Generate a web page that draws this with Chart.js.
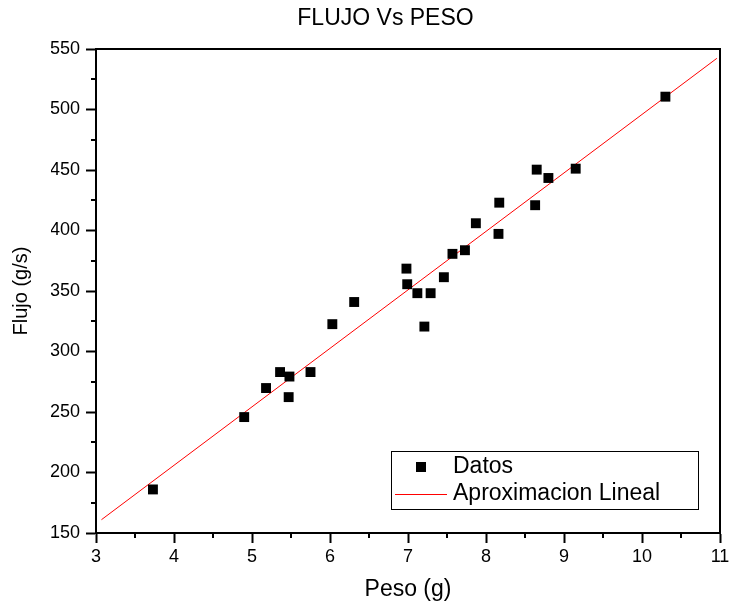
<!DOCTYPE html>
<html>
<head>
<meta charset="utf-8">
<script src="https://cdn.jsdelivr.net/npm/chart.js@4.4.0/dist/chart.umd.min.js"></script>
<style>
html,body{margin:0;padding:0;background:#ffffff;}
#wrap{width:731px;height:607px;position:relative;}
</style>
</head>
<body>
<div id="wrap"><canvas id="c" width="731" height="607"></canvas></div>
<script>
// ---- data ----
const pesoValues  = [3.73, 4.90, 5.18, 5.36, 5.48, 5.47, 5.75, 6.03, 6.31, 6.98, 6.99, 7.12, 7.21, 7.29, 7.46, 7.57, 7.73, 7.87, 8.17, 8.16, 8.63, 8.65, 8.80, 9.15, 10.30];
const flujoValues = [186.0, 245.8, 269.8, 283.0, 279.3, 262.3, 283.0, 322.6, 340.9, 368.5, 355.6, 348.2, 320.6, 348.2, 361.4, 380.7, 383.7, 406.0, 423.0, 397.2, 420.9, 450.3, 443.4, 451.1, 510.6];
const fitPeso  = [3.07, 10.96];
const fitFlujo = [161.0, 542.3];
const xMinorTicks = [3.5, 4.5, 5.5, 6.5, 7.5, 8.5, 9.5, 10.5];
const yMinorTicks = [175, 225, 275, 325, 375, 425, 475, 525];
const seriesNames = ['Datos', 'Aproximacion Lineal'];

const FONT = '"Liberation Sans", Arial, Helvetica, sans-serif';

const datosPoints = pesoValues.map((x, i) => ({x: x, y: flujoValues[i]}));
const fitPoints = fitPeso.map((x, i) => ({x: x, y: fitFlujo[i]}));

const framePlugin = {
  id: 'frame',
  afterDraw(chart) {
    const {ctx, chartArea: a, scales} = chart;
    ctx.save();
    ctx.strokeStyle = '#000';
    ctx.lineWidth = 2;
    ctx.beginPath();
    ctx.moveTo(a.left - 1, a.top);
    ctx.lineTo(a.right, a.top);
    ctx.lineTo(a.right, a.bottom + 1);
    ctx.stroke();
    // minor ticks
    ctx.lineWidth = 2;
    ctx.beginPath();
    yMinorTicks.forEach(v => {
      const py = Math.round(scales.y.getPixelForValue(v));
      ctx.moveTo(a.left - 5, py);
      ctx.lineTo(a.left, py);
    });
    xMinorTicks.forEach(v => {
      const px = Math.round(scales.x.getPixelForValue(v));
      ctx.moveTo(px, a.bottom);
      ctx.lineTo(px, a.bottom + 5);
    });
    ctx.stroke();
    // legend box
    const bx = a.right - 329, by = a.bottom - 82, bw = 307, bh = 58;
    ctx.lineWidth = 1;
    ctx.strokeRect(bx + 0.5, by + 0.5, bw, bh);
    ctx.fillStyle = '#000';
    ctx.fillRect(bx + 25, by + 11, 10, 10);
    ctx.strokeStyle = '#ff0000';
    ctx.beginPath();
    ctx.moveTo(bx + 4, by + 43.5);
    ctx.lineTo(bx + 56, by + 43.5);
    ctx.stroke();
    ctx.fillStyle = '#000';
    ctx.font = '23px ' + FONT;
    ctx.textBaseline = 'middle';
    ctx.textAlign = 'left';
    ctx.fillText(seriesNames[0], bx + 62, by + 16);
    ctx.fillText(seriesNames[1], bx + 62, by + 43);
    ctx.restore();
  }
};

new Chart(document.getElementById('c'), {
  type: 'scatter',
  data: {
    datasets: [
      {
        label: seriesNames[0],
        data: datosPoints,
        pointStyle: 'rect',
        pointRadius: 7,
        pointHoverRadius: 7,
        backgroundColor: '#000000',
        borderColor: '#000000',
        borderWidth: 0,
        showLine: false
      },
      {
        label: seriesNames[1],
        data: fitPoints,
        showLine: true,
        borderColor: '#ff0000',
        borderWidth: 1,
        pointRadius: 0,
        fill: false
      }
    ]
  },
  options: {
    responsive: false,
    animation: false,
    layout: {padding: {left: 51, right: 11, top: 0, bottom: 0}},
    plugins: {
      legend: {display: false},
      tooltip: {enabled: false},
      title: {
        display: true,
        text: 'FLUJO Vs PESO',
        color: '#000',
        font: {family: FONT, size: 23, weight: 'normal'},
        padding: {top: 5, bottom: 16.4}
      }
    },
    scales: {
      x: {
        type: 'linear',
        min: 3, max: 11,
        ticks: {stepSize: 1, color: '#000', font: {family: FONT, size: 18}, padding: 3},
        grid: {drawOnChartArea: false, tickLength: 10, tickWidth: 2, tickColor: '#000'},
        border: {color: '#000', width: 2},
        title: {display: true, text: 'Peso (g)', color: '#000', font: {family: FONT, size: 23}, padding: {top: 0, bottom: 4}},
        afterFit(s) { s.height = 74; s.paddingRight = 0; }
      },
      y: {
        type: 'linear',
        min: 150, max: 550,
        ticks: {stepSize: 50, color: '#000', font: {family: FONT, size: 18}, padding: 6},
        grid: {drawOnChartArea: false, tickLength: 10, tickWidth: 2, tickColor: '#000'},
        border: {color: '#000', width: 2},
        title: {display: true, text: 'Flujo (g/s)', color: '#000', font: {family: FONT, size: 20}, padding: {top: -42, bottom: 0}},
        afterFit(s) { s.width = 45; }
      }
    }
  },
  plugins: [framePlugin]
});
</script>
</body>
</html>
